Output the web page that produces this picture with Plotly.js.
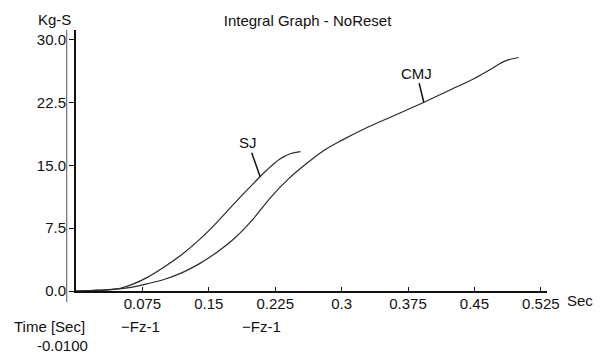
<!DOCTYPE html>
<html>
<head>
<meta charset="utf-8">
<script src="https://cdn.plot.ly/plotly-3.0.1.min.js"></script>
<style>html,body{margin:0;padding:0;background:#fff;}#chart{width:603px;height:354px;}</style>
</head>
<body>
<div id="chart"></div>
<script>
var sjTime = [0, 0.02, 0.04, 0.05, 0.065, 0.08, 0.1, 0.12, 0.14, 0.16, 0.18, 0.2, 0.215, 0.23, 0.242, 0.2535];
var sjValue = [0, 0.08, 0.2, 0.33, 0.85, 1.6, 2.9, 4.4, 6.2, 8.3, 10.6, 12.8, 14.4, 15.75, 16.4, 16.65];
var cmjTime = [0, 0.02, 0.04, 0.06, 0.08, 0.1, 0.12, 0.14, 0.16, 0.18, 0.2, 0.22, 0.24, 0.26, 0.28, 0.3, 0.33, 0.36, 0.39, 0.42, 0.45, 0.47, 0.485, 0.5];
var cmjValue = [0, 0.06, 0.17, 0.4, 0.85, 1.4, 2.2, 3.3, 4.7, 6.4, 8.6, 11.2, 13.4, 15.2, 16.8, 18.0, 19.6, 21.0, 22.4, 23.9, 25.4, 26.6, 27.5, 27.9];
var xTickVals = [0.075, 0.15, 0.225, 0.3, 0.375, 0.45, 0.525];
var xTickText = ["0.075", "0.15", "0.225", "0.3", "0.375", "0.45", "0.525"];
var yTickVals = [0, 7.5, 15, 22.5, 30];
var yTickText = ["0.0", "7.5", "15.0", "22.5", "30.0"];
var seriesNames = ["SJ", "CMJ"];
var labelPoints = [[0.208, 13.65], [0.3928, 22.55]];

var FONT = '"Liberation Sans", Arial, sans-serif';
var ink = '#111111';

var traces = [
  {x: sjTime, y: sjValue, mode: 'lines', name: seriesNames[0],
   line: {color: '#2a2a2a', width: 1.2, shape: 'spline', smoothing: 1}},
  {x: cmjTime, y: cmjValue, mode: 'lines', name: seriesNames[1],
   line: {color: '#2a2a2a', width: 1.2, shape: 'spline', smoothing: 1}}
];

var f = {family: FONT, size: 15, color: ink};
var layout = {
  width: 603, height: 354,
  paper_bgcolor: '#ffffff', plot_bgcolor: '#ffffff',
  margin: {l: 76, r: 56, t: 30, b: 63, pad: 0},
  showlegend: false,
  title: {text: 'Integral Graph - NoReset', font: f, x: 0.51, xref: 'container', xanchor: 'center', y: 0.941, yref: 'container', yanchor: 'middle'},
  xaxis: {range: [0, 0.532], tickvals: xTickVals, ticktext: xTickText, ticks: 'inside', ticklen: 4, tickwidth: 1, tickcolor: ink,
          ticklabelstandoff: -2,
          showline: true, linecolor: ink, linewidth: 2, showgrid: false, zeroline: false, tickfont: f, fixedrange: true},
  yaxis: {range: [0, 31.19], tickvals: yTickVals, ticktext: yTickText, ticks: 'outside', ticklen: 5, tickwidth: 1, tickcolor: ink,
          showline: true, linecolor: ink, linewidth: 2, showgrid: false, zeroline: false, tickfont: f, fixedrange: true},
  shapes: [
    {type: 'line', xref: 'paper', yref: 'paper', x0: -0.0197, x1: -0.0197, y0: -0.042, y1: 1.0, line: {color: '#555', width: 1}}
  ],
  annotations: [
    {text: 'Kg-S', xref: 'paper', yref: 'paper', x: -0.0446, y: 1.042, showarrow: false, font: f, xanchor: 'center', yanchor: 'middle'},
    {text: 'Sec', xref: 'paper', yref: 'paper', x: 1.070, y: -0.038, showarrow: false, font: f, xanchor: 'center', yanchor: 'middle'},
    {text: 'Time [Sec]', xref: 'paper', yref: 'paper', x: -0.0573, y: -0.1379, showarrow: false, font: f, xanchor: 'center', yanchor: 'middle', borderpad: 0},
    {text: '-0.0100', xref: 'paper', yref: 'paper', x: -0.0297, y: -0.2069, showarrow: false, font: f, xanchor: 'center', yanchor: 'middle', borderpad: 0},
    {text: '\u2212Fz-1', xref: 'paper', yref: 'paper', x: 0.1359, y: -0.1379, showarrow: false, font: f, xanchor: 'center', yanchor: 'middle', borderpad: 0},
    {text: '\u2212Fz-1', xref: 'paper', yref: 'paper', x: 0.3949, y: -0.1379, showarrow: false, font: f, xanchor: 'center', yanchor: 'middle', borderpad: 0},
    {text: seriesNames[0], x: labelPoints[0][0], y: labelPoints[0][1], xref: 'x', yref: 'y', showarrow: true, arrowhead: 0, arrowwidth: 1.5, arrowcolor: ink,
     ax: -12, ay: -34, standoff: 0, startstandoff: 0, font: f},
    {text: seriesNames[1], x: labelPoints[1][0], y: labelPoints[1][1], xref: 'x', yref: 'y', showarrow: true, arrowhead: 0, arrowwidth: 1.5, arrowcolor: ink,
     ax: -7, ay: -29, standoff: 0, startstandoff: 0, font: f}
  ]
};

Plotly.newPlot('chart', traces, layout, {displayModeBar: false, staticPlot: true});
</script>
</body>
</html>
